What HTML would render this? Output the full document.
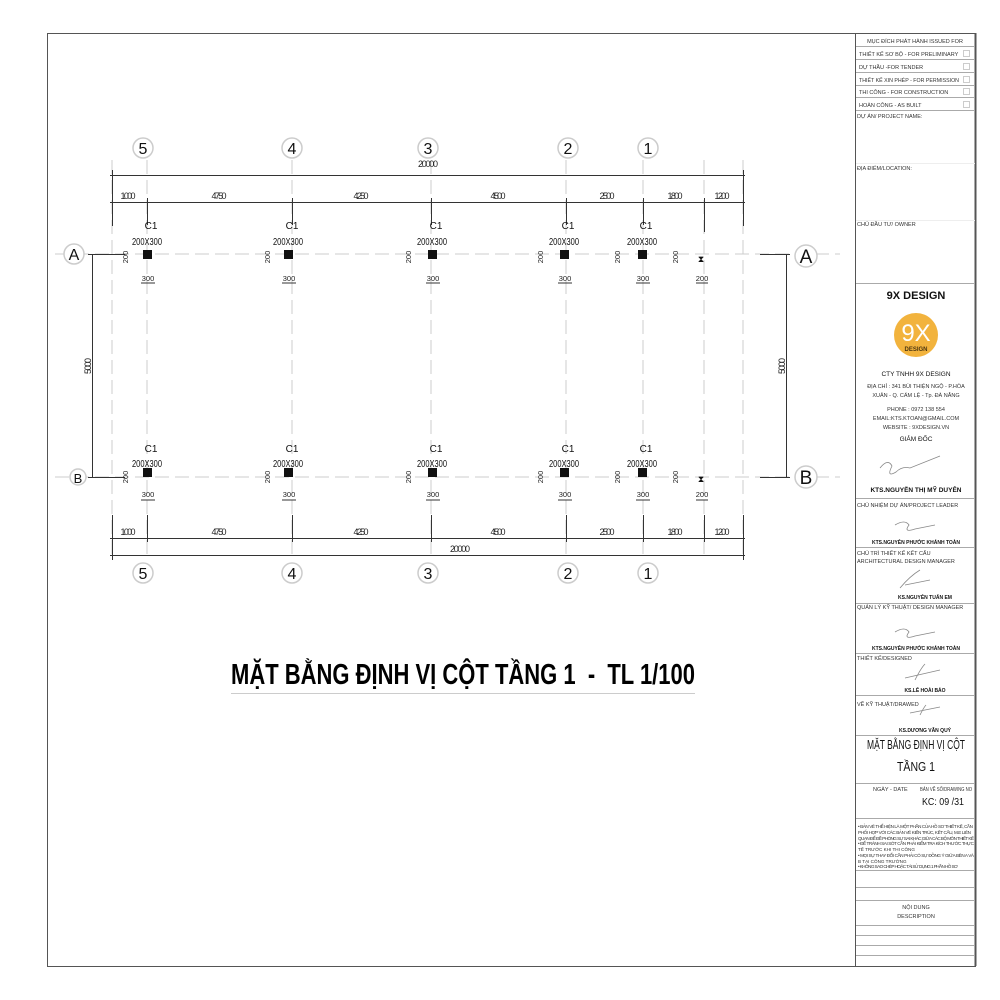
<!DOCTYPE html>
<html><head><meta charset="utf-8"><style>
html,body{margin:0;padding:0;background:#fff;}
svg{display:block;font-family:"Liberation Sans",sans-serif;}
</style></head><body>
<svg width="1000" height="1000" viewBox="0 0 1000 1000" xmlns="http://www.w3.org/2000/svg">
<rect width="1000" height="1000" fill="#fff"/>
<rect x="47.5" y="33.5" width="928" height="933" fill="none" stroke="#555" stroke-width="1"/>
<line x1="855.5" y1="33" x2="855.5" y2="966" stroke="#555"/>
<line x1="975.5" y1="33" x2="975.5" y2="966" stroke="#555" stroke-width="2"/>

<g stroke="#ccc" stroke-width="1" stroke-dasharray="14,6">
<line x1="55" y1="254" x2="840" y2="254"/>
<line x1="55" y1="477" x2="840" y2="477"/>
<line x1="112" y1="160" x2="112" y2="560"/>
<line x1="147" y1="160" x2="147" y2="560"/>
<line x1="292" y1="160" x2="292" y2="560"/>
<line x1="431" y1="160" x2="431" y2="560"/>
<line x1="566" y1="160" x2="566" y2="560"/>
<line x1="643" y1="160" x2="643" y2="560"/>
<line x1="704" y1="160" x2="704" y2="560"/>
<line x1="743" y1="160" x2="743" y2="560"/>
</g>

<g stroke="#333" stroke-width="1" fill="none">
<line x1="110" y1="175.5" x2="745" y2="175.5"/>
<line x1="110" y1="202.5" x2="745" y2="202.5"/>
<line x1="110" y1="538.5" x2="745" y2="538.5"/>
<line x1="110" y1="555.5" x2="745" y2="555.5"/>
<line x1="112.5" y1="170" x2="112.5" y2="226"/>
<line x1="743.5" y1="170" x2="743.5" y2="226"/>
<line x1="112.5" y1="515" x2="112.5" y2="560"/>
<line x1="743.5" y1="515" x2="743.5" y2="560"/>
<line x1="147.5" y1="198" x2="147.5" y2="225"/><line x1="292.5" y1="198" x2="292.5" y2="225"/>
<line x1="431.5" y1="198" x2="431.5" y2="225"/><line x1="566.5" y1="198" x2="566.5" y2="225"/>
<line x1="643.5" y1="198" x2="643.5" y2="225"/><line x1="704.5" y1="198" x2="704.5" y2="232"/>
<line x1="147.5" y1="515" x2="147.5" y2="542"/><line x1="292.5" y1="515" x2="292.5" y2="542"/>
<line x1="431.5" y1="515" x2="431.5" y2="542"/><line x1="566.5" y1="515" x2="566.5" y2="542"/>
<line x1="643.5" y1="515" x2="643.5" y2="542"/><line x1="704.5" y1="515" x2="704.5" y2="542"/>
<line x1="92.5" y1="254" x2="92.5" y2="477"/>
<line x1="88" y1="254.5" x2="125" y2="254.5"/>
<line x1="88" y1="477.5" x2="125" y2="477.5"/>
<line x1="786.5" y1="254" x2="786.5" y2="477"/>
<line x1="760" y1="254.5" x2="790" y2="254.5"/>
<line x1="760" y1="477.5" x2="790" y2="477.5"/>
</g>

<g font-size="9" fill="#222" text-anchor="middle" lengthAdjust="spacingAndGlyphs">
<text x="428" y="167" textLength="20">20000</text>
<text x="128" y="199" textLength="15">1000</text><text x="219" y="199" textLength="15">4750</text><text x="361" y="199" textLength="15">4250</text>
<text x="498" y="199" textLength="15">4500</text><text x="607" y="199" textLength="15">2500</text><text x="675" y="199" textLength="15">1800</text><text x="722" y="199" textLength="15">1200</text>
<text x="128" y="535" textLength="15">1000</text><text x="219" y="535" textLength="15">4750</text><text x="361" y="535" textLength="15">4250</text>
<text x="498" y="535" textLength="15">4500</text><text x="607" y="535" textLength="15">2500</text><text x="675" y="535" textLength="15">1800</text><text x="722" y="535" textLength="15">1200</text>
<text x="460" y="552" textLength="20">20000</text>
<text transform="translate(91,366) rotate(-90)" textLength="16">5000</text>
<text transform="translate(785,366) rotate(-90)" textLength="16">5000</text>
</g>

<g font-size="16" fill="#111" text-anchor="middle">
<g fill="#fff" stroke="#ccc" stroke-width="1.5">
<circle cx="143" cy="148" r="10"/><circle cx="292" cy="148" r="10"/><circle cx="428" cy="148" r="10"/><circle cx="568" cy="148" r="10"/><circle cx="648" cy="148" r="10"/>
<circle cx="143" cy="573" r="10"/><circle cx="292" cy="573" r="10"/><circle cx="428" cy="573" r="10"/><circle cx="568" cy="573" r="10"/><circle cx="648" cy="573" r="10"/>
<circle cx="74" cy="254" r="10"/><circle cx="78" cy="477" r="8"/><circle cx="806" cy="256" r="11"/><circle cx="806" cy="477" r="11"/>
</g>
<text x="143" y="154">5</text><text x="292" y="154">4</text><text x="428" y="154">3</text><text x="568" y="154">2</text><text x="648" y="154">1</text>
<text x="143" y="579">5</text><text x="292" y="579">4</text><text x="428" y="579">3</text><text x="568" y="579">2</text><text x="648" y="579">1</text>
<text x="74" y="260">A</text><text x="78" y="483" font-size="13">B</text><text x="806" y="263" font-size="19">A</text><text x="806" y="484" font-size="19">B</text>
</g>

<g font-size="10" fill="#111" text-anchor="middle">
<g transform="translate(147,0)">
<text x="4" y="229">C1</text><text x="0" y="245" textLength="30" lengthAdjust="spacingAndGlyphs">200X300</text><rect x="-4" y="250" width="9" height="9"/>
<text x="4" y="452">C1</text><text x="0" y="467" textLength="30" lengthAdjust="spacingAndGlyphs">200X300</text><rect x="-4" y="468" width="9" height="9"/>
</g>
<g transform="translate(288,0)">
<text x="4" y="229">C1</text><text x="0" y="245" textLength="30" lengthAdjust="spacingAndGlyphs">200X300</text><rect x="-4" y="250" width="9" height="9"/>
<text x="4" y="452">C1</text><text x="0" y="467" textLength="30" lengthAdjust="spacingAndGlyphs">200X300</text><rect x="-4" y="468" width="9" height="9"/>
</g>
<g transform="translate(432,0)">
<text x="4" y="229">C1</text><text x="0" y="245" textLength="30" lengthAdjust="spacingAndGlyphs">200X300</text><rect x="-4" y="250" width="9" height="9"/>
<text x="4" y="452">C1</text><text x="0" y="467" textLength="30" lengthAdjust="spacingAndGlyphs">200X300</text><rect x="-4" y="468" width="9" height="9"/>
</g>
<g transform="translate(564,0)">
<text x="4" y="229">C1</text><text x="0" y="245" textLength="30" lengthAdjust="spacingAndGlyphs">200X300</text><rect x="-4" y="250" width="9" height="9"/>
<text x="4" y="452">C1</text><text x="0" y="467" textLength="30" lengthAdjust="spacingAndGlyphs">200X300</text><rect x="-4" y="468" width="9" height="9"/>
</g>
<g transform="translate(642,0)">
<text x="4" y="229">C1</text><text x="0" y="245" textLength="30" lengthAdjust="spacingAndGlyphs">200X300</text><rect x="-4" y="250" width="9" height="9"/>
<text x="4" y="452">C1</text><text x="0" y="467" textLength="30" lengthAdjust="spacingAndGlyphs">200X300</text><rect x="-4" y="468" width="9" height="9"/>
</g>
<text x="701" y="262" font-size="9">⧗</text>
<text x="701" y="482" font-size="9">⧗</text>
</g>
<g font-size="7.5" fill="#222" text-anchor="middle">
<g stroke="#333" stroke-width="1">
<line x1="141" y1="283" x2="155" y2="283"/><line x1="282" y1="283" x2="296" y2="283"/><line x1="426" y1="283" x2="440" y2="283"/><line x1="558" y1="283" x2="572" y2="283"/><line x1="636" y1="283" x2="650" y2="283"/><line x1="696" y1="283" x2="708" y2="283"/>
<line x1="141" y1="500" x2="155" y2="500"/><line x1="282" y1="500" x2="296" y2="500"/><line x1="426" y1="500" x2="440" y2="500"/><line x1="558" y1="500" x2="572" y2="500"/><line x1="636" y1="500" x2="650" y2="500"/><line x1="696" y1="500" x2="708" y2="500"/>
</g>
<text x="148" y="281">300</text><text x="289" y="281">300</text><text x="433" y="281">300</text><text x="565" y="281">300</text><text x="643" y="281">300</text><text x="702" y="281">200</text>
<text x="148" y="497">300</text><text x="289" y="497">300</text><text x="433" y="497">300</text><text x="565" y="497">300</text><text x="643" y="497">300</text><text x="702" y="497">200</text>
<text transform="translate(128,257) rotate(-90)">200</text><text transform="translate(270,257) rotate(-90)">200</text><text transform="translate(411,257) rotate(-90)">200</text><text transform="translate(543,257) rotate(-90)">200</text><text transform="translate(620,257) rotate(-90)">200</text><text transform="translate(678,257) rotate(-90)">200</text>
<text transform="translate(128,477) rotate(-90)">200</text><text transform="translate(270,477) rotate(-90)">200</text><text transform="translate(411,477) rotate(-90)">200</text><text transform="translate(543,477) rotate(-90)">200</text><text transform="translate(620,477) rotate(-90)">200</text><text transform="translate(678,477) rotate(-90)">200</text>
</g>

<text x="231" y="684" font-size="29" font-weight="bold" fill="#000" textLength="464" lengthAdjust="spacingAndGlyphs">MẶT BẰNG ĐỊNH VỊ CỘT TẦNG 1&#160;&#160;-&#160;&#160;TL 1/100</text>
<line x1="231" y1="693.5" x2="695" y2="693.5" stroke="#ccc"/>

<g stroke="#aaa" stroke-width="1">
<line x1="856" y1="46.5" x2="975" y2="46.5"/>
<line x1="856" y1="59.5" x2="975" y2="59.5"/>
<line x1="856" y1="72.5" x2="975" y2="72.5"/>
<line x1="856" y1="85.5" x2="975" y2="85.5"/>
<line x1="856" y1="97.5" x2="975" y2="97.5"/>
<line x1="856" y1="110.5" x2="975" y2="110.5"/>
<line x1="856" y1="283.5" x2="975" y2="283.5"/>
<line x1="856" y1="498.5" x2="975" y2="498.5"/>
<line x1="856" y1="547.5" x2="975" y2="547.5"/>
<line x1="856" y1="603.5" x2="975" y2="603.5"/>
<line x1="856" y1="653.5" x2="975" y2="653.5"/>
<line x1="856" y1="695.5" x2="975" y2="695.5"/>
<line x1="856" y1="735.5" x2="975" y2="735.5"/>
<line x1="856" y1="783.5" x2="975" y2="783.5"/>
<line x1="856" y1="818.5" x2="975" y2="818.5"/>
<line x1="856" y1="870.5" x2="975" y2="870.5"/>
<line x1="856" y1="887.5" x2="975" y2="887.5"/>
<line x1="856" y1="900.5" x2="975" y2="900.5"/>
<line x1="856" y1="925.5" x2="975" y2="925.5"/>
<line x1="856" y1="935.5" x2="975" y2="935.5"/>
<line x1="856" y1="945.5" x2="975" y2="945.5"/>
<line x1="856" y1="955.5" x2="975" y2="955.5"/>
<line x1="856" y1="163.5" x2="975" y2="163.5" stroke="#eee"/>
<line x1="856" y1="220.5" x2="975" y2="220.5" stroke="#eee"/>
</g>
<g fill="none" stroke="#ccc">
<rect x="963.5" y="50.5" width="6" height="6"/><rect x="963.5" y="63.5" width="6" height="6"/><rect x="963.5" y="76.5" width="6" height="6"/><rect x="963.5" y="88.5" width="6" height="6"/><rect x="963.5" y="101.5" width="6" height="6"/>
</g>
<g font-size="5.5" fill="#333">
<text x="915" y="43" text-anchor="middle">MỤC ĐÍCH PHÁT HÀNH ISSUED FOR</text>
<text x="859" y="56">THIẾT KẾ SƠ BỘ - FOR PRELIMINARY</text>
<text x="859" y="69">DỰ THẦU -FOR TENDER</text>
<text x="859" y="82" textLength="100" lengthAdjust="spacingAndGlyphs">THIẾT KẾ XIN PHÉP - FOR PERMISSION</text>
<text x="859" y="94">THI CÔNG - FOR CONSTRUCTION</text>
<text x="859" y="107">HOÀN CÔNG - AS BUILT</text>
<text x="857" y="118">DỰ ÁN/ PROJECT NAME:</text>
<text x="857" y="170">ĐỊA ĐIỂM/LOCATION:</text>
<text x="857" y="226">CHỦ ĐẦU TƯ/ OWNER</text>
<text x="857" y="507">CHỦ NHIỆM DỰ ÁN/PROJECT LEADER</text>
<text x="857" y="555">CHỦ TRÌ THIẾT KẾ KẾT CẤU</text>
<text x="857" y="563">ARCHITECTURAL DESIGN MANAGER</text>
<text x="857" y="609">QUẢN LÝ KỸ THUẬT/ DESIGN MANAGER</text>
<text x="857" y="660">THIẾT KẾ/DESIGNED</text>
<text x="857" y="706">VẼ KỸ THUẬT/DRAWED</text>
<text x="873" y="791">NGÀY - DATE</text>
<text x="920" y="791" textLength="52" lengthAdjust="spacingAndGlyphs">BẢN VẼ SỐ/DRAWING NO</text>
<text x="916" y="909" text-anchor="middle">NỘI DUNG</text>
<text x="916" y="918" text-anchor="middle">DESCRIPTION</text>
</g>
<g font-size="4.6" fill="#333" lengthAdjust="spacingAndGlyphs">
<text x="858" y="828" textLength="115">• BẢN VẼ THỂ HIỆN LÀ MỘT PHẦN CỦA HỒ SƠ THIẾT KẾ, CẦN</text>
<text x="858" y="834" textLength="113">PHỐI HỢP VỚI CÁC BẢN VẼ KIẾN TRÚC, KẾT CẤU, M.E LIÊN</text>
<text x="858" y="840" textLength="116">QUAN ĐỂ ĐỀ PHÒNG SỰ SAI KHÁC GIỮA CÁC BỘ MÔN THIẾT KẾ</text>
<text x="858" y="845" textLength="116">• ĐỂ TRÁNH SAI SÓT CẦN PHẢI KIỂM TRA KÍCH THƯỚC THỰC</text>
<text x="858" y="851">TẾ TRƯỚC KHI THI CÔNG</text>
<text x="858" y="857" textLength="116">• MỌI SỰ THAY ĐỔI CẦN PHẢI CÓ SỰ ĐỒNG Ý GIỮA BÊN A VÀ</text>
<text x="858" y="863">B TẠI CÔNG TRƯỜNG</text>
<text x="858" y="868" textLength="100">• KHÔNG SAO CHÉP HOẶC TÁI SỬ DỤNG 1 PHẦN HỒ SƠ</text>
</g>
<g fill="#111" text-anchor="middle">
<text x="916" y="299" font-size="11" font-weight="bold">9X DESIGN</text>
<circle cx="916" cy="335" r="22" fill="#f2b33d"/>
<text x="916" y="341" font-size="24" fill="#fff">9X</text>
<text x="916" y="351" font-size="6" fill="#4a3510" font-weight="bold">DESIGN</text>
<text x="916" y="376" font-size="6.5">CTY TNHH 9X DESIGN</text>
<g font-size="5.5" fill="#333">
<text x="916" y="388">ĐỊA CHỈ : 341 BÙI THIỆN NGỘ - P.HÒA</text>
<text x="916" y="397">XUÂN - Q. CẨM LỆ - Tp. ĐÀ NẴNG</text>
<text x="916" y="411">PHONE : 0972 138 554</text>
<text x="916" y="420">EMAIL:KTS.KTOAN@GMAIL.COM</text>
<text x="916" y="429">WEBSITE : 9XDESIGN.VN</text>
</g>
<text x="916" y="441" font-size="6.5">GIẢM ĐỐC</text>
<text x="916" y="492" font-size="6.5" font-weight="bold">KTS.NGUYỄN THỊ MỸ DUYÊN</text>
<text x="916" y="544" font-size="5" font-weight="bold">KTS.NGUYỄN PHƯỚC KHÁNH TOÀN</text>
<text x="925" y="599" font-size="5" font-weight="bold">KS.NGUYỄN TUẤN EM</text>
<text x="916" y="650" font-size="5" font-weight="bold">KTS.NGUYỄN PHƯỚC KHÁNH TOÀN</text>
<text x="925" y="692" font-size="5" font-weight="bold">KS.LÊ HOÀI BẢO</text>
<text x="925" y="732" font-size="5" font-weight="bold">KS.DƯƠNG VĂN QUÝ</text>
<text x="916" y="749" font-size="13" textLength="98" lengthAdjust="spacingAndGlyphs">MẶT BẰNG ĐỊNH VỊ CỘT</text>
<text x="916" y="771" font-size="13" textLength="38" lengthAdjust="spacingAndGlyphs">TẦNG 1</text>
<text x="943" y="805" font-size="10" textLength="42" lengthAdjust="spacingAndGlyphs">KC: 09 /31</text>
</g>
<g fill="none" stroke="#888" stroke-width="0.8">
<path d="M880 468 q8 -10 12 -2 q-6 12 4 6 q6 -6 14 -4 l30 -12"/>
<path d="M895 525 q10 -6 14 0 q-6 8 6 4 l20 -4"/>
<path d="M900 588 q10 -12 20 -18 M905 585 l25 -5"/>
<path d="M895 632 q10 -6 14 0 q-6 8 6 4 l20 -4"/>
<path d="M915 680 q6 -12 10 -16 M905 678 l35 -8"/>
<path d="M920 715 q4 -8 6 -10 M910 713 l30 -6"/>
</g>
</svg>
</body></html>
